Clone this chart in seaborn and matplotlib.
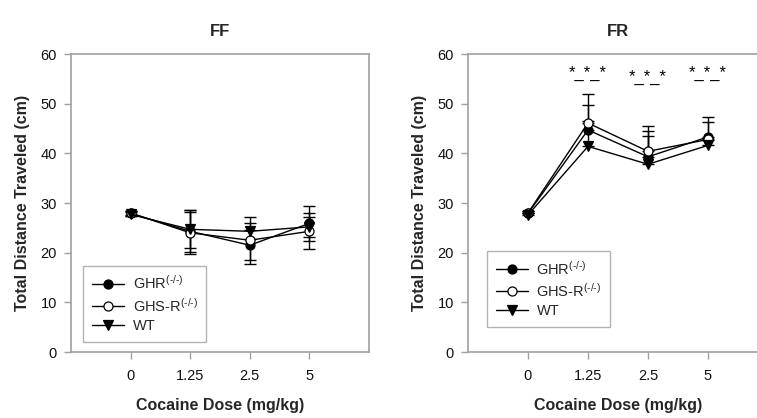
import numpy as np
import pandas as pd
import matplotlib
matplotlib.use("Agg")
import matplotlib.pyplot as plt
import seaborn as sns

doses = ["0", "1.25", "2.5", "5"]
groups = ["GHR$^{\\text{(-/-)}}$", "GHS-R$^{\\text{(-/-)}}$", "WT"]

ff_ghr = [27.9, 24.3, 21.5, 25.9]
ff_ghsr = [28.0, 24.0, 22.5, 24.3]
ff_wt = [27.7, 24.7, 24.3, 25.2]
ff_ghr_err = [0.5, 4.2, 3.0, 3.5]
ff_ghsr_err = [0.4, 4.2, 4.7, 3.6]
ff_wt_err = [0.4, 3.8, 1.6, 2.0]

fr_ghr = [27.9, 44.7, 39.3, 43.3]
fr_ghsr = [28.0, 46.1, 40.4, 42.8]
fr_wt = [27.6, 41.4, 37.8, 41.6]
fr_ghr_err = [0.4, 5.0, 5.2, 4.0]
fr_ghsr_err = [0.4, 5.8, 5.1, 3.5]
fr_wt_err = [0.4, 5.1, 5.7, 1.0]

sig_labels = ["", "*_*_*", "*_*_*", "*_*_*"]
sig_y = [0, 56.0, 55.3, 56.0]

sns.set_theme(style="white")
plt.rcParams["font.family"] = ["Liberation Sans", "DejaVu Sans"]
plt.rcParams["mathtext.fontset"] = "custom"
plt.rcParams["mathtext.rm"] = "Liberation Sans"
plt.rcParams["mathtext.it"] = "Liberation Sans"
plt.rcParams["mathtext.bf"] = "Liberation Sans:bold"
plt.rcParams["mathtext.sf"] = "Liberation Sans"

fig = plt.figure(figsize=(7.57, 4.18), dpi=100)
ax1 = fig.add_axes([71 / 757, 66 / 418, 298 / 757, 298 / 418])
ax2 = fig.add_axes([468 / 757, 66 / 418, 300 / 757, 298 / 418])

markers = {groups[0]: "o", groups[1]: "o", groups[2]: "v"}
faces = {groups[0]: "black", groups[1]: "white", groups[2]: "black"}
gray = "#a0a0a0"


def panel(ax, means, errs, title, upper_only, legend_box):
    pos = np.arange(len(doses))
    rows = []
    for g, m in zip(groups, means):
        for p, v in zip(pos, m):
            rows.append({"pos": p, "val": v, "grp": g})
    df = pd.DataFrame(rows)
    for g, m, e in zip(groups, means, errs):
        e = np.array(e)
        yerr = [np.zeros_like(e), e] if upper_only else e
        ax.errorbar(pos, m, yerr=yerr, fmt="none", ecolor="black",
                    elinewidth=1.0, capsize=4, capthick=1.0, zorder=2)
    sns.lineplot(data=df, x="pos", y="val", hue="grp", style="grp",
                 palette={g: "black" for g in groups},
                 markers=markers, dashes=False, ax=ax, legend=False,
                 linewidth=1.0, zorder=3, sort=False)
    handles = []
    for line, g in zip(ax.get_lines()[-3:], groups):
        line.set_markerfacecolor(faces[g])
        line.set_markeredgecolor("black")
        line.set_markersize(6.5)
        line.set_markeredgewidth(0.9)
        handles.append(line)
    ax.set_xlim(-1, 4)
    ax.set_ylim(0, 60)
    ax.set_xticks(pos)
    ax.set_xticklabels(doses)
    ax.set_yticks(np.arange(0, 61, 10))
    for s in ax.spines.values():
        s.set_color(gray)
        s.set_linewidth(1.2)
        s.set_visible(True)
    ax.tick_params(axis="both", direction="out", length=5, width=1,
                   color=gray, labelsize=10.5, labelcolor="#111111", pad=5,
                   bottom=True, left=True)
    ax.tick_params(axis="x", pad=7)
    ax.set_xlabel("Cocaine Dose (mg/kg)", fontsize=11.5, fontweight="bold",
                  labelpad=11)
    ax.set_ylabel("Total Distance Traveled (cm)", fontsize=11.5,
                  fontweight="bold", labelpad=8)
    ax.set_title(title, fontsize=12, fontweight="bold", pad=13)
    leg = ax.legend(handles, groups, loc="lower left",
                    bbox_to_anchor=legend_box, frameon=True, fancybox=False,
                    shadow=False, fontsize=10.5, handlelength=2.2,
                    borderpad=0.6, labelspacing=0.3, handletextpad=0.6,
                    borderaxespad=0)
    leg.get_frame().set_edgecolor(gray)
    leg.get_frame().set_linewidth(1.0)


panel(ax1, [ff_ghr, ff_ghsr, ff_wt], [ff_ghr_err, ff_ghsr_err, ff_wt_err],
      "FF", False, (0.04, 0.035))
panel(ax2, [fr_ghr, fr_ghsr, fr_wt], [fr_ghr_err, fr_ghsr_err, fr_wt_err],
      "FR", True, (0.063, 0.085))

for p, lab, y in zip(range(len(doses)), sig_labels, sig_y):
    if lab:
        ax2.text(p, y, lab, ha="center", va="center", fontsize=12,
                 color="black")

fig.savefig("out.png", dpi=100)
